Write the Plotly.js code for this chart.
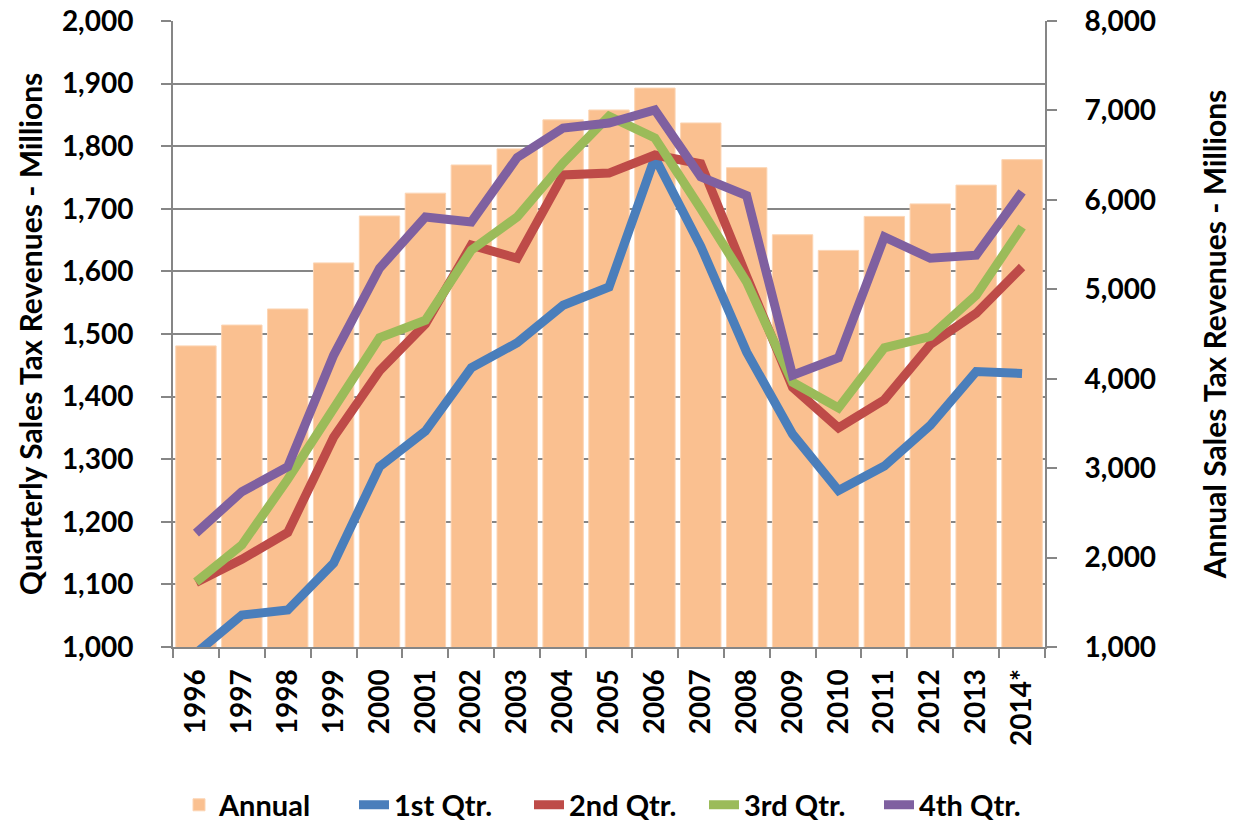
<!DOCTYPE html>
<html>
<head>
<meta charset="utf-8">
<script src="https://cdn.plot.ly/plotly-3.0.1.min.js"></script>
<style>
html,body{margin:0;padding:0;background:#fff;}
#chart{width:1233px;height:829px;}
</style>
</head>
<body>
<div id="chart"></div>
<script>
var years = ['1996','1997','1998','1999','2000','2001','2002','2003','2004','2005','2006','2007','2008','2009','2010','2011','2012','2013','2014*'];
var annual = [4367,4600,4780,5295,5820,6075,6390,6570,6895,7005,7250,6860,6360,5610,5435,5815,5955,6165,6450];
var q1 = [990,1051,1059,1134,1288,1345,1446,1486,1546,1575,1782,1640,1471,1340,1250,1289,1354,1440,1437];
var q2 = [1103,1140,1183,1335,1441,1516,1642,1621,1754,1757,1786,1772,1592,1415,1350,1395,1483,1533,1607];
var q3 = [1104,1163,1268,1383,1494,1522,1634,1687,1773,1848,1813,1700,1583,1423,1382,1478,1496,1562,1671];
var q4 = [1182,1248,1288,1466,1605,1687,1679,1782,1829,1837,1858,1751,1721,1434,1462,1655,1621,1626,1727];

var FONT = 'Lato, Calibri, Carlito, sans-serif';
var tickFont = {family: FONT, size: 28, color: '#000', weight: 'bold'};
var titleFont = {family: FONT, size: 30, color: '#000', weight: 'bold'};
var lw = 9;
var AX = '#868686';

var traces = [
  {type: 'bar', name: 'Annual', x: years, y: annual, yaxis: 'y',
   marker: {color: '#FAC090', line: {color: '#FCD5B4', width: 1}}},
  {type: 'scatter', mode: 'lines', name: '1st Qtr.', x: years, y: q1, yaxis: 'y2',
   line: {color: '#4A7EBB', width: lw}},
  {type: 'scatter', mode: 'lines', name: '2nd Qtr.', x: years, y: q2, yaxis: 'y2',
   line: {color: '#BE4B48', width: lw}},
  {type: 'scatter', mode: 'lines', name: '3rd Qtr.', x: years, y: q3, yaxis: 'y2',
   line: {color: '#9BBB59', width: lw}},
  {type: 'scatter', mode: 'lines', name: '4th Qtr.', x: years, y: q4, yaxis: 'y2',
   line: {color: '#7F60A0', width: lw}}
];

var layout = {
  width: 1233, height: 829,
  margin: {l: 173, r: 188, t: 21, b: 182, autoexpand: false},
  paper_bgcolor: '#fff', plot_bgcolor: '#fff',
  bargap: 0.12,
  showlegend: true,
  legend: {orientation: 'h', x: 0.5, xref: 'container', xanchor: 'center',
           y: 0.029, yref: 'container', yanchor: 'middle',
           font: {family: FONT, size: 29, color: '#000', weight: 'bold'},
           traceorder: 'normal', itemwidth: 30, entrywidth: 130, entrywidthmode: 'pixels'},
  xaxis: {type: 'category', tickangle: -90, tickfont: tickFont,
          showline: true, linecolor: AX, linewidth: 2,
          ticks: 'outside', ticklen: 9, tickcolor: AX, tickwidth: 2,
          ticklabelstandoff: 9,
          tickson: 'boundaries', showgrid: false, fixedrange: true},
  yaxis: {side: 'right', range: [1000, 8000], dtick: 1000, tickformat: ',d',
          tickfont: tickFont, showgrid: false, zeroline: false,
          showline: true, linecolor: AX, linewidth: 2,
          ticks: 'outside', ticklen: 10, tickcolor: AX, tickwidth: 2,
          ticklabelstandoff: 22,
          title: {text: 'Annual Sales Tax Revenues - Millions', standoff: 50, font: titleFont}},
  yaxis2: {overlaying: 'y', side: 'left', range: [1000, 2000], dtick: 100, tickformat: ',d',
           tickfont: tickFont, showgrid: true, gridcolor: AX, gridwidth: 2, zeroline: false,
           showline: true, linecolor: AX, linewidth: 2,
           ticks: 'outside', ticklen: 10, tickcolor: AX, tickwidth: 2,
           ticklabelstandoff: 22,
           title: {text: 'Quarterly Sales Tax Revenues - Millions', standoff: 10, font: titleFont}}
};

Plotly.newPlot('chart', traces, layout, {displayModeBar: false, staticPlot: true});
</script>
</body>
</html>
